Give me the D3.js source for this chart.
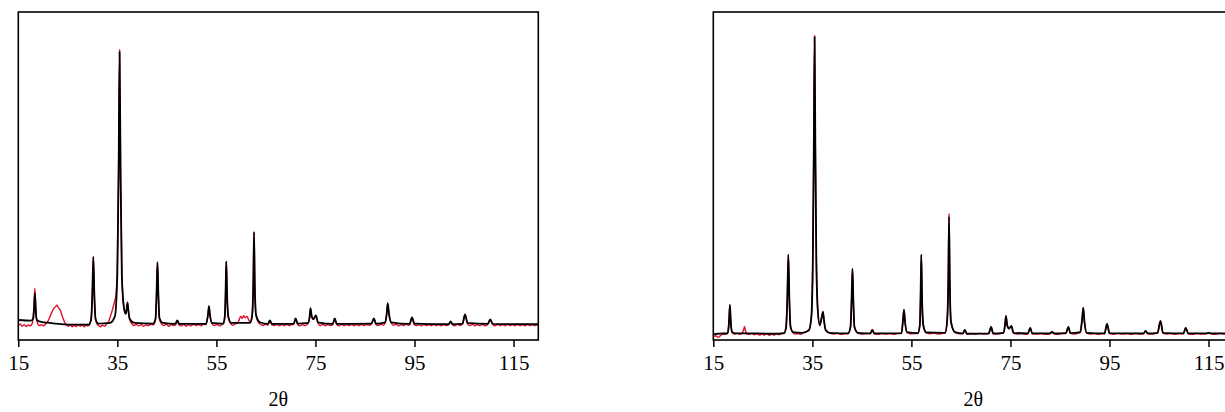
<!DOCTYPE html>
<html>
<head>
<meta charset="utf-8">
<script src="https://cdn.jsdelivr.net/npm/d3@7"></script>
<style>
  html, body { margin: 0; padding: 0; background: #fff; }
  svg { display: block; }
</style>
</head>
<body>
<svg id="chart" width="1225" height="412"></svg>
<script>
// Diffraction patterns, intensity in arbitrary units; [2θ, intensity]
const xTicks = [15, 35, 55, 75, 95, 115];
const xDomain = [15, 120];
const yDomain = [0, 1000];

// Panel A: observed (red) and calculated (black)
const obsA = [
  [15,44],[15.4,49],[15.8,42],[16.2,47],[16.6,41],[17.0,46],[17.4,43],[17.8,50],[18.05,80],[18.2,120],
  [18.35,158],[18.5,110],[18.65,70],[18.9,50],[19.3,44],[19.7,47],[20.1,43],[20.5,49],[20.9,55],[21.3,68],
  [21.7,82],[22.1,95],[22.5,101],[22.8,106],[23.1,99],[23.5,90],[23.9,72],[24.3,56],[24.7,47],[25.1,42],
  [25.5,46],[25.9,40],[26.3,45],[26.7,41],[27.1,47],[27.5,42],[27.9,46],[28.3,40],[28.7,45],[29.1,43],
  [29.5,52],[29.8,80],[30.0,170],[30.15,253],[30.3,165],[30.5,80],[30.8,52],[31.2,44],[31.6,40],[32.0,45],
  [32.4,42],[32.8,48],[33.2,55],[33.6,72],[34.0,92],[34.4,115],[34.7,135],[35.0,230],[35.25,520],[35.45,885],
  [35.65,510],[35.9,210],[36.3,102],[36.7,80],[36.9,96],[37.05,114],[37.2,92],[37.5,62],[37.9,50],[38.3,44],
  [38.8,48],[39.3,43],[39.8,47],[40.3,42],[40.8,46],[41.3,44],[41.8,48],[42.3,46],[42.7,63],[42.9,130],
  [43.1,236],[43.3,128],[43.5,64],[43.9,50],[44.4,44],[44.9,48],[45.4,42],[45.9,47],[46.4,44],[46.8,48],
  [47.1,58],[47.4,47],[47.9,43],[48.4,48],[48.9,42],[49.4,46],[49.9,43],[50.4,48],[50.9,44],[51.4,47],
  [51.9,43],[52.4,48],[52.9,47],[53.3,76],[53.5,102],[53.7,74],[54.1,50],[54.6,44],[55.1,48],[55.6,43],
  [56.1,47],[56.5,50],[56.7,70],[56.85,140],[57.0,239],[57.15,140],[57.4,70],[57.8,52],[58.3,45],[58.8,49],
  [59.3,52],[59.6,62],[59.9,72],[60.2,66],[60.5,74],[60.8,68],[61.2,72],[61.5,62],[61.8,56],[62.2,72],
  [62.45,172],[62.6,330],[62.75,170],[63.0,75],[63.4,56],[63.9,48],[64.4,44],[64.9,48],[65.4,45],[65.8,58],
  [66.2,46],[66.7,44],[67.2,48],[67.7,43],[68.2,47],[68.7,43],[69.2,48],[69.7,44],[70.2,47],[70.6,48],
  [71.0,65],[71.4,48],[71.9,43],[72.4,47],[72.9,44],[73.5,50],[73.85,72],[74.0,96],[74.25,70],[74.6,62],
  [75.1,74],[75.5,52],[76.0,44],[76.5,48],[77.0,43],[77.5,47],[78.0,44],[78.5,47],[78.9,64],[79.3,47],
  [79.8,43],[80.3,48],[80.8,43],[81.3,47],[81.8,44],[82.3,48],[82.8,43],[83.3,47],[83.8,44],[84.3,48],
  [84.8,44],[85.3,47],[85.8,45],[86.3,49],[86.8,65],[87.2,48],[87.7,44],[88.2,48],[88.7,45],[89.1,53],
  [89.4,80],[89.6,111],[89.85,78],[90.3,52],[90.8,45],[91.3,48],[91.8,43],[92.3,47],[92.8,44],[93.3,48],
  [93.8,45],[94.1,48],[94.5,68],[94.9,48],[95.4,44],[95.9,47],[96.4,43],[96.9,48],[97.4,44],[97.9,47],
  [98.4,43],[98.9,48],[99.4,44],[99.9,47],[100.4,43],[100.9,48],[101.4,44],[101.9,47],[102.3,56],[102.7,46],
  [103.2,43],[103.7,48],[104.2,44],[104.7,49],[105.2,77],[105.7,50],[106.2,44],[106.7,48],[107.2,43],[107.7,47],
  [108.2,44],[108.7,48],[109.2,43],[109.8,48],[110.3,62],[110.8,47],[111.3,43],[111.8,48],[112.3,44],[112.8,47],
  [113.3,43],[113.8,48],[114.3,44],[114.8,47],[115.3,43],[115.8,48],[116.3,44],[116.8,47],[117.3,43],[117.8,48],
  [118.3,44],[118.8,47],[119.3,43],[119.8,47],[120,45]
];

const calcA = [
  [15,61],[17.6,59],[18.0,65],[18.2,98],[18.35,143],[18.5,98],[18.7,62],[19.2,57],[22,51],[26,47],
  [29.2,47],[29.7,62],[29.95,142],[30.15,253],[30.35,142],[30.6,64],[31.2,50],[33.5,52],[34.5,72],[35.0,202],
  [35.25,502],[35.45,878],[35.65,502],[35.9,202],[36.3,102],[36.7,80],[36.9,97],[37.05,115],[37.2,94],[37.5,64],
  [38.5,52],[42.2,50],[42.7,64],[42.9,132],[43.1,237],[43.3,132],[43.5,67],[44.2,52],[46.7,49],[47.1,60],
  [47.5,49],[52.9,49],[53.3,77],[53.5,103],[53.7,77],[54.1,52],[56.3,50],[56.7,72],[56.85,142],[57.0,240],
  [57.15,142],[57.4,72],[58,52],[61.8,52],[62.2,72],[62.45,172],[62.6,329],[62.75,172],[63.0,77],[63.8,54],
  [65.4,49],[65.8,60],[66.2,49],[70.6,49],[71.0,66],[71.4,50],[73.5,52],[73.85,74],[74.0,97],[74.25,72],
  [74.6,64],[75.1,75],[75.5,54],[78.5,49],[78.9,66],[79.3,49],[86.3,50],[86.8,66],[87.2,50],[89.1,54],
  [89.4,82],[89.6,112],[89.85,80],[90.3,54],[94.0,49],[94.5,69],[95.0,50],[101.9,48],[102.3,57],[102.7,48],
  [104.7,50],[105.2,78],[105.7,52],[109.8,49],[110.3,63],[110.8,49],[120,48]
];

// Panel B: observed (red) and calculated (black)
const obsB = [
  [15,9],[15.5,13],[16.0,8],[16.5,14],[17.0,18],[17.5,17],[17.9,21],[18.15,50],[18.35,108],[18.55,50],
  [18.8,23],[19.3,18],[19.8,21],[20.3,17],[20.8,21],[21.1,30],[21.3,41],[21.5,28],[21.8,19],[22.3,17],
  [22.8,20],[23.3,16],[23.8,19],[24.3,15],[24.8,18],[25.3,15],[25.8,19],[26.3,14],[26.8,18],[27.3,15],
  [27.8,19],[28.3,16],[28.8,20],[29.3,20],[29.7,40],[29.95,130],[30.15,261],[30.35,130],[30.6,40],[31.1,22],
  [31.6,18],[32.1,20],[32.6,17],[33.0,21],[34.3,29],[34.8,70],[35.1,250],[35.3,600],[35.45,928],[35.6,600],
  [35.8,250],[36.1,90],[36.5,45],[36.9,70],[37.15,86],[37.35,60],[37.7,30],[38.5,21],[39.3,18],[40.1,21],
  [40.9,17],[41.6,20],[42.2,19],[42.7,40],[42.9,110],[43.1,218],[43.3,110],[43.5,40],[44.2,21],[45.0,18],
  [45.8,20],[46.7,19],[47.1,31],[47.5,19],[48.3,17],[49.1,20],[49.9,18],[50.7,20],[51.5,17],[52.3,20],
  [53.0,20],[53.3,60],[53.5,93],[53.7,58],[54.1,23],[54.8,19],[55.6,20],[56.3,20],[56.7,45],[56.85,130],
  [57.0,261],[57.15,130],[57.4,45],[58,22],[58.8,19],[59.6,21],[60.4,18],[61.1,20],[61.8,21],[62.2,55],
  [62.45,182],[62.6,386],[62.75,182],[63.0,55],[63.8,23],[64.6,19],[65.4,19],[65.8,31],[66.2,18],[67.0,20],
  [67.9,17],[68.8,20],[69.7,18],[70.6,19],[71.1,40],[71.5,19],[72.3,18],[73.0,20],[73.6,21],[73.9,45],
  [74.1,74],[74.35,45],[74.7,35],[75.2,43],[75.6,21],[76.4,18],[77.2,20],[78.0,17],[78.5,19],[79.0,37],
  [79.4,19],[80.2,18],[81.1,20],[82.0,17],[83,19],[83.4,25],[83.8,19],[84.6,17],[85.4,20],[86.2,20],
  [86.7,40],[87.1,20],[87.8,18],[88.5,20],[89.1,23],[89.45,60],[89.7,99],[89.95,55],[90.4,21],[91.2,18],
  [92.0,20],[92.8,17],[93.5,20],[94.0,19],[94.5,49],[95.0,20],[95.8,17],[96.7,20],[97.6,18],[98.5,20],
  [99.4,17],[100.3,20],[101.1,18],[101.9,19],[102.3,28],[102.7,19],[103.5,18],[104.2,20],[104.7,21],[105.3,58],
  [105.8,21],[106.6,18],[107.4,20],[108.2,17],[109.0,20],[109.9,19],[110.4,37],[110.9,19],[111.8,17],[112.7,20],
  [113.6,18],[114.5,19],[115,22],[115.5,19],[116.4,17],[117.3,20],[118.2,18],[119.1,20],[120,19]
];

const calcB = [
  [15,18],[16,19],[17,20],[17.9,21],[18.15,50],[18.35,107],[18.55,50],[18.8,24],[19.5,20],[21,20],
  [24,20],[27,19],[29.3,21],[29.7,40],[29.95,130],[30.15,260],[30.35,130],[30.6,40],[31.1,24],[33,22],
  [34.3,30],[34.8,70],[35.1,250],[35.3,600],[35.45,924],[35.6,600],[35.8,250],[36.1,90],[36.5,45],[36.9,70],
  [37.15,86],[37.35,60],[37.7,30],[38.5,22],[42.2,20],[42.7,40],[42.9,110],[43.1,217],[43.3,110],[43.5,40],
  [44.2,22],[46.7,20],[47.1,31],[47.5,20],[53.0,21],[53.3,60],[53.5,92],[53.7,58],[54.1,24],[56.3,21],
  [56.7,45],[56.85,130],[57.0,260],[57.15,130],[57.4,45],[58,23],[61.8,22],[62.2,55],[62.45,180],[62.6,376],
  [62.75,180],[63.0,55],[63.8,24],[65.4,20],[65.8,31],[66.2,19],[70.6,20],[71.1,40],[71.5,20],[73.6,22],
  [73.9,45],[74.1,73],[74.35,45],[74.7,35],[75.2,43],[75.6,22],[78.5,20],[79.0,37],[79.4,20],[83,20],
  [83.4,25],[83.8,20],[86.2,21],[86.7,40],[87.1,21],[89.1,24],[89.45,60],[89.7,98],[89.95,55],[90.4,22],
  [94.0,20],[94.5,49],[95.0,21],[101.9,20],[102.3,28],[102.7,20],[104.7,22],[105.3,58],[105.8,22],[109.9,20],
  [110.4,37],[110.9,20],[114.5,20],[115,22],[115.5,20],[120,20]
];

const axisTitle = "2\u03b8";

const serif = "'Liberation Serif', 'Times New Roman', serif";
const svg = d3.select("#chart");
const panelW = 520, panelTop = 12, panelH = 328;

function drawPanel(id, left, obs, calc) {
  const g = svg.append("g").attr("transform", `translate(${left},${panelTop})`);
  const x = d3.scaleLinear().domain(xDomain).range([0, panelW]);
  const y = d3.scaleLinear().domain(yDomain).range([panelH, 0]);

  g.append("clipPath").attr("id", "clip-" + id)
    .append("rect").attr("width", panelW).attr("height", panelH);

  const line = d3.line().x(d => x(d[0])).y(d => y(d[1])).curve(d3.curveMonotoneX);
  const plot = g.append("g").attr("clip-path", `url(#clip-${id})`);
  plot.append("path").datum(obs).attr("d", line)
    .attr("fill", "none").attr("stroke", "#e0102e").attr("stroke-width", 1.4)
    .attr("stroke-linejoin", "round");
  plot.append("path").datum(calc).attr("d", line)
    .attr("fill", "none").attr("stroke", "#000").attr("stroke-width", 1.8)
    .attr("stroke-linejoin", "round");

  g.append("rect").attr("width", panelW).attr("height", panelH)
    .attr("fill", "none").attr("stroke", "#000").attr("stroke-width", 1.6);

  const ax = g.append("g").attr("transform", `translate(0,${panelH})`)
    .call(d3.axisBottom(x).tickValues(xTicks).tickFormat(d3.format("d"))
      .tickSize(7).tickSizeOuter(0).tickPadding(8));
  ax.select(".domain").remove();
  ax.attr("font-family", serif).attr("font-size", 21);
  ax.selectAll(".tick line").attr("stroke", "#000").attr("stroke-width", 1.5);
  ax.selectAll(".tick text").attr("fill", "#000");

  g.append("text")
    .attr("x", panelW / 2).attr("y", panelH + 66)
    .attr("text-anchor", "middle")
    .attr("font-family", serif)
    .attr("font-size", 20).attr("fill", "#000")
    .text(axisTitle);
}

drawPanel("a", 18.3, obsA, calcA);
drawPanel("b", 713.3, obsB, calcB);
</script>
</body>
</html>
